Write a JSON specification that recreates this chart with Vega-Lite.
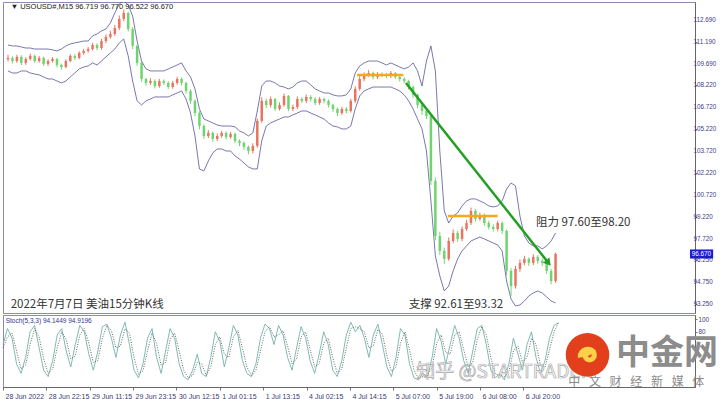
{
  "$schema": "https://vega.github.io/schema/vega-lite/v6.json",
  "padding": {"left": 0, "top": 1, "right": 0, "bottom": 0},
  "background": "white",
  "config": {"view": {"stroke": "#8a8ab2", "strokeWidth": 1}, "font": "Liberation Sans",
    "axis": {"labelOverlap": false, "labelFont": "Liberation Sans"}},
  "spacing": 0,
  "datasets": {
    "px": [
      {"i":0,"o":110.00,"h":110.30,"lo":109.85,"c":110.09,"up":110.98,"dn":109.20,"k":60,"d":55},
      {"i":5,"o":110.09,"h":110.20,"lo":109.72,"c":109.88,"up":110.91,"dn":109.06,"k":85,"d":72},
      {"i":10,"o":109.88,"h":110.30,"lo":109.75,"c":110.16,"up":110.91,"dn":109.06,"k":70,"d":78},
      {"i":15,"o":110.16,"h":110.28,"lo":109.60,"c":109.75,"up":110.84,"dn":109.20,"k":30,"d":50},
      {"i":20,"o":109.75,"h":110.15,"lo":109.62,"c":110.02,"up":110.77,"dn":109.20,"k":15,"d":22},
      {"i":25,"o":110.02,"h":110.38,"lo":109.92,"c":110.23,"up":110.77,"dn":109.06,"k":40,"d":28},
      {"i":30,"o":110.23,"h":110.32,"lo":109.75,"c":109.88,"up":110.70,"dn":108.99,"k":80,"d":60},
      {"i":35,"o":109.88,"h":110.22,"lo":109.76,"c":110.09,"up":110.70,"dn":108.93,"k":90,"d":85},
      {"i":40,"o":110.09,"h":110.18,"lo":109.55,"c":109.68,"up":110.70,"dn":108.79,"k":55,"d":72},
      {"i":45,"o":109.68,"h":110.00,"lo":109.55,"c":109.88,"up":110.70,"dn":108.65,"k":20,"d":38},
      {"i":50,"o":109.88,"h":110.15,"lo":109.78,"c":110.02,"up":110.64,"dn":108.65,"k":10,"d":15},
      {"i":55,"o":110.02,"h":110.10,"lo":109.45,"c":109.61,"up":110.57,"dn":108.51,"k":35,"d":22},
      {"i":60,"o":109.61,"h":109.70,"lo":109.30,"c":109.47,"up":110.70,"dn":108.38,"k":75,"d":55},
      {"i":65,"o":109.47,"h":110.00,"lo":109.38,"c":109.88,"up":110.91,"dn":108.51,"k":85,"d":80},
      {"i":70,"o":109.88,"h":110.35,"lo":109.80,"c":110.23,"up":111.05,"dn":108.79,"k":50,"d":68},
      {"i":75,"o":110.23,"h":110.35,"lo":109.95,"c":110.09,"up":111.12,"dn":109.06,"k":25,"d":38},
      {"i":80,"o":110.09,"h":110.55,"lo":110.00,"c":110.43,"up":111.18,"dn":109.34,"k":60,"d":42},
      {"i":85,"o":110.43,"h":110.72,"lo":110.30,"c":110.57,"up":111.25,"dn":109.47,"k":90,"d":75},
      {"i":90,"o":110.57,"h":110.85,"lo":110.45,"c":110.70,"up":111.25,"dn":109.54,"k":80,"d":85},
      {"i":95,"o":110.70,"h":111.12,"lo":110.60,"c":110.98,"up":111.60,"dn":109.75,"k":45,"d":62},
      {"i":100,"o":110.98,"h":111.10,"lo":110.62,"c":110.77,"up":111.73,"dn":109.61,"k":20,"d":32},
      {"i":105,"o":110.77,"h":111.40,"lo":110.65,"c":111.25,"up":111.94,"dn":109.88,"k":50,"d":35},
      {"i":110,"o":111.25,"h":111.70,"lo":111.10,"c":111.53,"up":112.07,"dn":110.16,"k":88,"d":70},
      {"i":115,"o":111.53,"h":111.95,"lo":111.40,"c":111.73,"up":112.48,"dn":110.43,"k":92,"d":90},
      {"i":120,"o":111.73,"h":112.35,"lo":111.60,"c":112.14,"up":113.17,"dn":110.70,"k":70,"d":82},
      {"i":125,"o":112.14,"h":113.00,"lo":112.00,"c":112.76,"up":113.79,"dn":111.12,"k":40,"d":55},
      {"i":130,"o":112.76,"h":113.40,"lo":112.60,"c":113.17,"up":114.00,"dn":111.39,"k":75,"d":58},
      {"i":135,"o":113.17,"h":113.25,"lo":111.90,"c":112.07,"up":113.72,"dn":110.23,"k":95,"d":85},
      {"i":140,"o":112.07,"h":112.20,"lo":110.70,"c":110.91,"up":112.96,"dn":108.51,"k":60,"d":78},
      {"i":145,"o":110.91,"h":111.00,"lo":109.55,"c":109.75,"up":111.25,"dn":107.15,"k":20,"d":40},
      {"i":150,"o":109.75,"h":109.85,"lo":108.45,"c":108.65,"up":109.88,"dn":106.87,"k":8,"d":14},
      {"i":155,"o":108.65,"h":108.75,"lo":108.20,"c":108.38,"up":109.34,"dn":107.15,"k":30,"d":19},
      {"i":160,"o":108.38,"h":108.70,"lo":108.25,"c":108.51,"up":109.20,"dn":107.28,"k":70,"d":50},
      {"i":165,"o":108.51,"h":108.62,"lo":108.00,"c":108.17,"up":109.20,"dn":107.42,"k":85,"d":78},
      {"i":170,"o":108.17,"h":108.65,"lo":108.05,"c":108.51,"up":109.20,"dn":107.42,"k":40,"d":62},
      {"i":175,"o":108.51,"h":108.62,"lo":108.22,"c":108.38,"up":109.20,"dn":107.42,"k":15,"d":28},
      {"i":180,"o":108.38,"h":108.50,"lo":107.95,"c":108.10,"up":109.34,"dn":107.42,"k":50,"d":32},
      {"i":185,"o":108.10,"h":108.52,"lo":107.98,"c":108.38,"up":109.47,"dn":107.56,"k":85,"d":68},
      {"i":190,"o":108.38,"h":108.80,"lo":108.25,"c":108.65,"up":109.61,"dn":107.69,"k":70,"d":78},
      {"i":195,"o":108.65,"h":108.75,"lo":108.20,"c":108.38,"up":109.75,"dn":107.83,"k":30,"d":50},
      {"i":200,"o":108.38,"h":108.45,"lo":107.65,"c":107.83,"up":109.20,"dn":107.28,"k":10,"d":20},
      {"i":205,"o":107.83,"h":107.95,"lo":106.95,"c":107.15,"up":108.79,"dn":106.32,"k":5,"d":8},
      {"i":210,"o":107.15,"h":107.25,"lo":106.10,"c":106.32,"up":107.97,"dn":104.75,"k":20,"d":12},
      {"i":215,"o":106.32,"h":106.45,"lo":105.20,"c":105.43,"up":106.60,"dn":102.49,"k":45,"d":32},
      {"i":220,"o":105.43,"h":105.55,"lo":104.55,"c":104.75,"up":105.91,"dn":102.35,"k":15,"d":30},
      {"i":225,"o":104.75,"h":105.15,"lo":104.60,"c":104.96,"up":105.78,"dn":103.03,"k":10,"d":12},
      {"i":230,"o":104.96,"h":105.05,"lo":104.35,"c":104.54,"up":105.64,"dn":103.59,"k":40,"d":25},
      {"i":235,"o":104.54,"h":104.92,"lo":104.40,"c":104.75,"up":105.50,"dn":103.86,"k":80,"d":60},
      {"i":240,"o":104.75,"h":105.10,"lo":104.62,"c":104.96,"up":105.43,"dn":103.86,"k":65,"d":72},
      {"i":245,"o":104.96,"h":105.05,"lo":104.50,"c":104.68,"up":105.43,"dn":103.72,"k":25,"d":45},
      {"i":250,"o":104.68,"h":105.02,"lo":104.55,"c":104.89,"up":105.43,"dn":103.72,"k":55,"d":40},
      {"i":255,"o":104.89,"h":104.98,"lo":104.25,"c":104.41,"up":105.37,"dn":103.38,"k":90,"d":72},
      {"i":260,"o":104.41,"h":104.52,"lo":104.05,"c":104.27,"up":105.09,"dn":103.17,"k":75,"d":82},
      {"i":265,"o":104.27,"h":104.38,"lo":103.80,"c":104.00,"up":104.96,"dn":102.90,"k":35,"d":55},
      {"i":270,"o":104.00,"h":104.10,"lo":103.50,"c":103.72,"up":104.75,"dn":102.63,"k":15,"d":25},
      {"i":275,"o":103.72,"h":104.25,"lo":103.55,"c":104.07,"up":104.96,"dn":102.49,"k":10,"d":12},
      {"i":280,"o":104.07,"h":105.95,"lo":103.95,"c":105.78,"up":106.46,"dn":102.49,"k":30,"d":20},
      {"i":285,"o":105.78,"h":107.40,"lo":105.65,"c":107.15,"up":108.17,"dn":104.41,"k":70,"d":50},
      {"i":290,"o":107.15,"h":107.30,"lo":106.65,"c":106.87,"up":108.51,"dn":105.43,"k":92,"d":80},
      {"i":295,"o":106.87,"h":107.45,"lo":106.70,"c":107.28,"up":108.51,"dn":105.64,"k":85,"d":88},
      {"i":300,"o":107.28,"h":107.35,"lo":106.45,"c":106.60,"up":108.38,"dn":105.78,"k":60,"d":72},
      {"i":305,"o":106.60,"h":107.05,"lo":106.48,"c":106.87,"up":108.17,"dn":105.91,"k":90,"d":75},
      {"i":310,"o":106.87,"h":107.65,"lo":106.75,"c":107.49,"up":108.10,"dn":106.05,"k":75,"d":82},
      {"i":315,"o":107.49,"h":107.55,"lo":106.45,"c":106.60,"up":107.97,"dn":106.05,"k":40,"d":58},
      {"i":320,"o":106.60,"h":106.90,"lo":106.45,"c":106.73,"up":108.10,"dn":106.19,"k":20,"d":30},
      {"i":325,"o":106.73,"h":107.45,"lo":106.60,"c":107.28,"up":108.38,"dn":106.32,"k":55,"d":38},
      {"i":330,"o":107.28,"h":107.40,"lo":107.00,"c":107.15,"up":108.51,"dn":106.46,"k":88,"d":72},
      {"i":335,"o":107.15,"h":107.58,"lo":107.00,"c":107.42,"up":108.51,"dn":106.46,"k":70,"d":80},
      {"i":340,"o":107.42,"h":107.55,"lo":107.10,"c":107.28,"up":108.24,"dn":106.32,"k":35,"d":52},
      {"i":345,"o":107.28,"h":107.40,"lo":106.85,"c":107.01,"up":107.97,"dn":106.19,"k":15,"d":25},
      {"i":350,"o":107.01,"h":107.42,"lo":106.88,"c":107.28,"up":107.83,"dn":106.05,"k":45,"d":30},
      {"i":355,"o":107.28,"h":107.38,"lo":106.98,"c":107.15,"up":107.69,"dn":105.91,"k":80,"d":62},
      {"i":360,"o":107.15,"h":107.25,"lo":106.70,"c":106.87,"up":107.69,"dn":105.64,"k":60,"d":70},
      {"i":365,"o":106.87,"h":106.95,"lo":106.40,"c":106.60,"up":107.56,"dn":105.43,"k":20,"d":40},
      {"i":370,"o":106.60,"h":106.70,"lo":106.10,"c":106.32,"up":107.49,"dn":105.37,"k":10,"d":15},
      {"i":375,"o":106.32,"h":106.75,"lo":106.18,"c":106.60,"up":107.49,"dn":105.23,"k":35,"d":22},
      {"i":380,"o":106.60,"h":106.72,"lo":106.30,"c":106.46,"up":107.56,"dn":105.23,"k":75,"d":55},
      {"i":385,"o":106.46,"h":107.30,"lo":106.35,"c":107.15,"up":107.97,"dn":105.43,"k":95,"d":85},
      {"i":390,"o":107.15,"h":108.15,"lo":107.00,"c":107.97,"up":109.06,"dn":106.60,"k":80,"d":88},
      {"i":395,"o":107.97,"h":108.85,"lo":107.85,"c":108.65,"up":109.54,"dn":107.49,"k":90,"d":85},
      {"i":400,"o":108.65,"h":109.10,"lo":108.50,"c":108.93,"up":109.75,"dn":107.83,"k":70,"d":80},
      {"i":405,"o":108.93,"h":109.25,"lo":108.80,"c":109.06,"up":109.88,"dn":107.97,"k":40,"d":55},
      {"i":410,"o":109.06,"h":109.15,"lo":108.62,"c":108.79,"up":109.88,"dn":108.10,"k":75,"d":58},
      {"i":415,"o":108.79,"h":109.12,"lo":108.65,"c":108.99,"up":109.88,"dn":108.10,"k":92,"d":84},
      {"i":420,"o":108.99,"h":109.10,"lo":108.78,"c":108.93,"up":109.75,"dn":108.10,"k":60,"d":76},
      {"i":425,"o":108.93,"h":109.05,"lo":108.70,"c":108.86,"up":109.61,"dn":108.10,"k":25,"d":42},
      {"i":430,"o":108.86,"h":109.20,"lo":108.72,"c":109.06,"up":109.75,"dn":108.10,"k":10,"d":18},
      {"i":435,"o":109.06,"h":109.12,"lo":108.65,"c":108.79,"up":109.61,"dn":107.97,"k":40,"d":25},
      {"i":440,"o":108.79,"h":108.90,"lo":108.48,"c":108.65,"up":109.47,"dn":107.83,"k":85,"d":62},
      {"i":445,"o":108.65,"h":108.78,"lo":108.35,"c":108.51,"up":109.34,"dn":107.56,"k":75,"d":80},
      {"i":450,"o":108.51,"h":108.60,"lo":107.92,"c":108.10,"up":109.47,"dn":107.15,"k":30,"d":52},
      {"i":455,"o":108.10,"h":108.20,"lo":107.35,"c":107.56,"up":109.75,"dn":106.60,"k":8,"d":20},
      {"i":460,"o":107.56,"h":107.65,"lo":106.65,"c":106.87,"up":109.20,"dn":105.91,"k":5,"d":7},
      {"i":465,"o":106.87,"h":107.00,"lo":106.20,"c":106.46,"up":108.17,"dn":105.23,"k":15,"d":10},
      {"i":470,"o":106.46,"h":106.60,"lo":105.90,"c":106.12,"up":109.88,"dn":103.72,"k":10,"d":12},
      {"i":475,"o":106.12,"h":106.30,"lo":101.40,"c":101.67,"up":110.91,"dn":100.30,"k":40,"d":25},
      {"i":480,"o":101.67,"h":101.90,"lo":97.60,"c":97.90,"up":109.20,"dn":96.54,"k":85,"d":62},
      {"i":485,"o":97.90,"h":98.20,"lo":96.60,"c":96.88,"up":103.72,"dn":95.17,"k":65,"d":75},
      {"i":490,"o":96.88,"h":97.10,"lo":96.00,"c":96.33,"up":99.62,"dn":94.14,"k":30,"d":48},
      {"i":495,"o":96.33,"h":97.80,"lo":96.20,"c":97.56,"up":98.79,"dn":94.48,"k":60,"d":45},
      {"i":500,"o":97.56,"h":98.35,"lo":97.40,"c":98.11,"up":99.27,"dn":95.51,"k":90,"d":75},
      {"i":505,"o":98.11,"h":98.25,"lo":97.50,"c":97.70,"up":99.48,"dn":96.33,"k":70,"d":80},
      {"i":510,"o":97.70,"h":98.55,"lo":97.55,"c":98.38,"up":99.96,"dn":96.88,"k":35,"d":52},
      {"i":515,"o":98.38,"h":99.00,"lo":98.25,"c":98.79,"up":100.30,"dn":97.22,"k":15,"d":25},
      {"i":520,"o":98.79,"h":99.85,"lo":98.65,"c":99.62,"up":100.44,"dn":97.56,"k":50,"d":32},
      {"i":525,"o":99.62,"h":99.75,"lo":98.90,"c":99.07,"up":100.44,"dn":97.70,"k":85,"d":68},
      {"i":530,"o":99.07,"h":99.50,"lo":98.95,"c":99.34,"up":100.30,"dn":97.83,"k":90,"d":88},
      {"i":535,"o":99.34,"h":99.45,"lo":98.60,"c":98.79,"up":100.16,"dn":97.70,"k":60,"d":75},
      {"i":540,"o":98.79,"h":98.95,"lo":98.35,"c":98.52,"up":99.96,"dn":97.56,"k":20,"d":40},
      {"i":545,"o":98.52,"h":98.70,"lo":98.20,"c":98.38,"up":99.89,"dn":97.42,"k":8,"d":14},
      {"i":550,"o":98.38,"h":98.95,"lo":98.22,"c":98.79,"up":99.96,"dn":97.29,"k":15,"d":12},
      {"i":555,"o":98.79,"h":98.90,"lo":98.05,"c":98.25,"up":100.30,"dn":96.88,"k":5,"d":10},
      {"i":560,"o":98.25,"h":98.35,"lo":95.20,"c":95.51,"up":101.12,"dn":94.82,"k":30,"d":18},
      {"i":565,"o":95.51,"h":95.70,"lo":93.80,"c":94.48,"up":101.53,"dn":93.59,"k":70,"d":50},
      {"i":570,"o":94.48,"h":95.85,"lo":94.30,"c":95.65,"up":101.33,"dn":93.11,"k":45,"d":58},
      {"i":575,"o":95.65,"h":96.30,"lo":95.45,"c":96.06,"up":99.27,"dn":93.18,"k":20,"d":32},
      {"i":580,"o":96.06,"h":96.55,"lo":95.90,"c":96.33,"up":97.90,"dn":93.45,"k":60,"d":40},
      {"i":585,"o":96.33,"h":96.45,"lo":95.85,"c":96.06,"up":97.42,"dn":93.80,"k":80,"d":70},
      {"i":590,"o":96.06,"h":96.65,"lo":95.90,"c":96.47,"up":97.22,"dn":94.00,"k":40,"d":60},
      {"i":595,"o":96.47,"h":96.60,"lo":96.00,"c":96.19,"up":97.22,"dn":94.14,"k":15,"d":28},
      {"i":600,"o":96.19,"h":96.35,"lo":95.85,"c":96.06,"up":97.02,"dn":94.00,"k":35,"d":25},
      {"i":605,"o":96.06,"h":96.20,"lo":95.30,"c":95.51,"up":97.22,"dn":93.73,"k":70,"d":52},
      {"i":610,"o":95.51,"h":95.65,"lo":94.60,"c":94.82,"up":97.56,"dn":93.45,"k":90,"d":80},
      {"i":615,"o":94.82,"h":96.77,"lo":94.70,"c":96.67,"up":98.11,"dn":93.32,"k":94,"d":95}
    ],
    "plab": [
      {"i":770,"v":112.69,"t":"112.690"},{"i":770,"v":111.19,"t":"111.190"},{"i":770,"v":109.69,"t":"109.690"},
      {"i":770,"v":108.22,"t":"108.220"},{"i":770,"v":106.72,"t":"106.720"},{"i":770,"v":105.22,"t":"105.220"},
      {"i":770,"v":103.72,"t":"103.720"},{"i":770,"v":102.22,"t":"102.220"},{"i":770,"v":100.72,"t":"100.720"},
      {"i":770,"v":99.22,"t":"99.220"},{"i":770,"v":97.72,"t":"97.720"},{"i":770,"v":96.25,"t":"96.250"},
      {"i":770,"v":94.75,"t":"94.750"},{"i":770,"v":93.25,"t":"93.250"}
    ],
    "orange": [
      {"g":"a","i":392,"p":108.93},{"g":"a","i":444,"p":108.93},
      {"g":"b","i":494,"p":99.27},{"g":"b","i":550,"p":99.27}
    ],
    "trend": [{"i":447,"p":108.38},{"i":607,"p":96.06}],
    "notes": [
      {"i":3,"p":93.18,"t":"2022年7月7日 美油15分钟K线"},
      {"i":450,"p":93.18,"t":"支撑 92.61至93.32"},
      {"i":593,"p":98.79,"t":"阻力 97.60至98.20"}
    ]
  },
  "vconcat": [
    {
      "width": 692,
      "height": 311,
      "encoding": {"x": {"field": "i", "type": "quantitative", "scale": {"domain": [0, 766], "nice": false, "zero": false}, "axis": null}},
      "layer": [
        {
          "data": {"name": "px"},
          "mark": {"type": "line", "color": "#55559a", "strokeWidth": 0.8, "clip": true},
          "encoding": {"y": {"field": "up", "type": "quantitative", "title": null,
            "scale": {"domain": [92.63, 113.92], "nice": false, "zero": false},
            "axis": {"orient": "right", "values": [112.69,111.19,109.69,108.22,106.72,105.22,103.72,102.22,100.72,99.22,97.72,96.25,94.75,93.25],
              "labels": false, "tickColor": "#777777", "tickSize": 2, "domainColor": "#666666", "grid": false, "title": null}}}
        },
        {
          "data": {"name": "px"},
          "mark": {"type": "line", "color": "#55559a", "strokeWidth": 0.8, "clip": true},
          "encoding": {"y": {"field": "dn", "type": "quantitative", "title": null}}
        },
        {
          "data": {"name": "px"},
          "mark": {"type": "rule", "strokeWidth": 1, "clip": true},
          "encoding": {
            "y": {"field": "h", "type": "quantitative", "title": null},
            "y2": {"field": "lo"},
            "color": {"condition": {"test": "datum.c >= datum.o", "value": "#e8745f"}, "value": "#6fd46f"}
          }
        },
        {
          "data": {"name": "px"},
          "mark": {"type": "bar", "width": 2.5, "clip": true},
          "encoding": {
            "y": {"field": "o", "type": "quantitative", "title": null},
            "y2": {"field": "c"},
            "color": {"condition": {"test": "datum.c >= datum.o", "value": "#e8745f"}, "value": "#6fd46f"}
          }
        },
        {
          "data": {"name": "orange"},
          "mark": {"type": "line", "color": "#f7a81b", "strokeWidth": 2.5},
          "encoding": {"y": {"field": "p", "type": "quantitative", "title": null}, "detail": {"field": "g"}}
        },
        {
          "data": {"name": "trend"},
          "mark": {"type": "line", "color": "#23a023", "strokeWidth": 2.5},
          "encoding": {"y": {"field": "p", "type": "quantitative", "title": null}}
        },
        {
          "data": {"values": [{"i": 607, "p": 96.06}]},
          "mark": {"type": "point", "shape": "triangle-up", "angle": 141, "filled": true, "color": "#23a023", "size": 70, "opacity": 1},
          "encoding": {"y": {"field": "p", "type": "quantitative", "title": null}}
        },
        {
          "data": {"name": "notes"},
          "mark": {"type": "text", "align": "left", "baseline": "middle", "fontSize": 11.5, "font": "Noto Sans CJK SC", "color": "#333333"},
          "encoding": {"y": {"field": "p", "type": "quantitative", "title": null}, "text": {"field": "t"}}
        },
        {
          "data": {"values": [{"i": 3, "p": 113.58, "t": "▼ USOUSD#,M15  96.719 96.770 96.522 96.670"}]},
          "mark": {"type": "text", "align": "left", "baseline": "middle", "fontSize": 7.5, "color": "#222222"},
          "encoding": {"y": {"field": "p", "type": "quantitative", "title": null}, "text": {"field": "t"}}
        },
        {
          "data": {"name": "plab"},
          "mark": {"type": "text", "align": "left", "baseline": "middle", "fontSize": 6.3, "color": "#3c3c88"},
          "encoding": {"y": {"field": "v", "type": "quantitative", "title": null}, "text": {"field": "t"}}
        },
        {
          "data": {"values": [{"i": 766, "i2": 792, "p": 96.36, "p2": 96.98}]},
          "mark": {"type": "rect", "color": "#1c1cc8"},
          "encoding": {"y": {"field": "p", "type": "quantitative", "title": null}, "x2": {"field": "i2"}, "y2": {"field": "p2"}}
        },
        {
          "data": {"values": [{"i": 768, "p": 96.67, "t": "96.670"}]},
          "mark": {"type": "text", "align": "left", "baseline": "middle", "fontSize": 6.3, "color": "white"},
          "encoding": {"y": {"field": "p", "type": "quantitative", "title": null}, "text": {"field": "t"}}
        }
      ]
    },
    {
      "width": 692,
      "height": 72,
      "encoding": {"x": {"field": "i", "type": "quantitative", "scale": {"domain": [0, 766], "nice": false, "zero": false},
        "axis": {"values": [0,48,96,144,192,240,288,336,384,432,480,528,576],
          "labelExpr": "['28 Jun 2022','28 Jun 22:15','29 Jun 11:15','29 Jun 23:15','30 Jun 12:15','1 Jul 01:15','1 Jul 13:15','4 Jul 02:15','4 Jul 14:15','5 Jul 07:00','5 Jul 19:00','6 Jul 08:00','6 Jul 20:00'][round(datum.value/48)]",
          "labelAlign": "left", "labelOffset": 2, "labelFontSize": 7, "labelColor": "#3c3c6c", "tickColor": "#777777", "tickSize": 3,
          "domainColor": "#666666", "labelPadding": 2, "labelOverlap": false, "labelFlush": false, "labelBound": false, "grid": false, "title": null}}},
      "layer": [
        {
          "data": {"name": "px"},
          "mark": {"type": "line", "color": "#6fb3aa", "strokeWidth": 0.9},
          "encoding": {"y": {"field": "k", "type": "quantitative", "title": null,
            "scale": {"domain": [-6.25, 106.25], "nice": false, "zero": false},
            "axis": {"orient": "right", "values": [100, 80], "labelFontSize": 6.3, "labelColor": "#3c3c88", "tickColor": "#777777", "tickSize": 2,
              "domainColor": "#666666", "labelPadding": 1, "labelOverlap": false, "grid": false, "title": null}}}
        },
        {
          "data": {"name": "px"},
          "mark": {"type": "line", "color": "#666666", "strokeWidth": 1, "strokeDash": [1, 1.5]},
          "encoding": {"y": {"field": "d", "type": "quantitative", "title": null}}
        },
        {
          "data": {"values": [{"i": 3, "s": 97.5, "t": "Stoch(5,3,3) 94.1449 94.9196"}]},
          "mark": {"type": "text", "align": "left", "baseline": "middle", "fontSize": 6.5, "color": "#333399"},
          "encoding": {"y": {"field": "s", "type": "quantitative", "title": null}, "text": {"field": "t"}}
        },
        {
          "data": {"values": [{"i": 555, "s": 17, "t": "知乎 @STARTRADER"}]},
          "mark": {"type": "text", "align": "center", "baseline": "middle", "fontSize": 19, "font": "Noto Sans CJK SC", "fill": "white", "fillOpacity": 0.4, "stroke": "#a8a8a8", "strokeWidth": 0.7},
          "encoding": {"y": {"field": "s", "type": "quantitative", "title": null}, "text": {"field": "t"}}
        },
        {
          "data": {"values": [{"i": 647, "s": 44}]},
          "mark": {"type": "point", "shape": "circle", "filled": true, "color": "#e2401c", "size": 1900, "opacity": 1},
          "encoding": {"y": {"field": "s", "type": "quantitative", "title": null}}
        },
        {
          "data": {"values": [{"i": 647, "s": 44}]},
          "mark": {"type": "point", "shape": "M-0.55,0.2 C-0.6,-0.45 0.35,-0.65 0.5,-0.1 C0.6,0.35 0.05,0.55 -0.15,0.2 C-0.25,-0.05 0.1,-0.2 0.2,0", "filled": false, "color": "#ffd04a", "strokeWidth": 5, "size": 700, "opacity": 1},
          "encoding": {"y": {"field": "s", "type": "quantitative", "title": null}}
        },
        {
          "data": {"values": [{"i": 735, "s": 46, "t": "中金网"}]},
          "mark": {"type": "text", "align": "center", "baseline": "middle", "fontSize": 34, "fontWeight": "bold", "font": "Noto Sans CJK SC", "color": "#8c8c8c"},
          "encoding": {"y": {"field": "s", "type": "quantitative", "title": null}, "text": {"field": "t"}}
        },
        {
          "data": {"values": [{"i": 701, "s": 1, "t": "中\u2002 文\u2002 财\u2002 经\u2002 新\u2002 媒\u2002 体"}]},
          "mark": {"type": "text", "align": "center", "baseline": "middle", "fontSize": 12, "font": "Noto Sans CJK SC", "color": "#8a8a8a"},
          "encoding": {"y": {"field": "s", "type": "quantitative", "title": null}, "text": {"field": "t"}}
        }
      ]
    }
  ]
}
